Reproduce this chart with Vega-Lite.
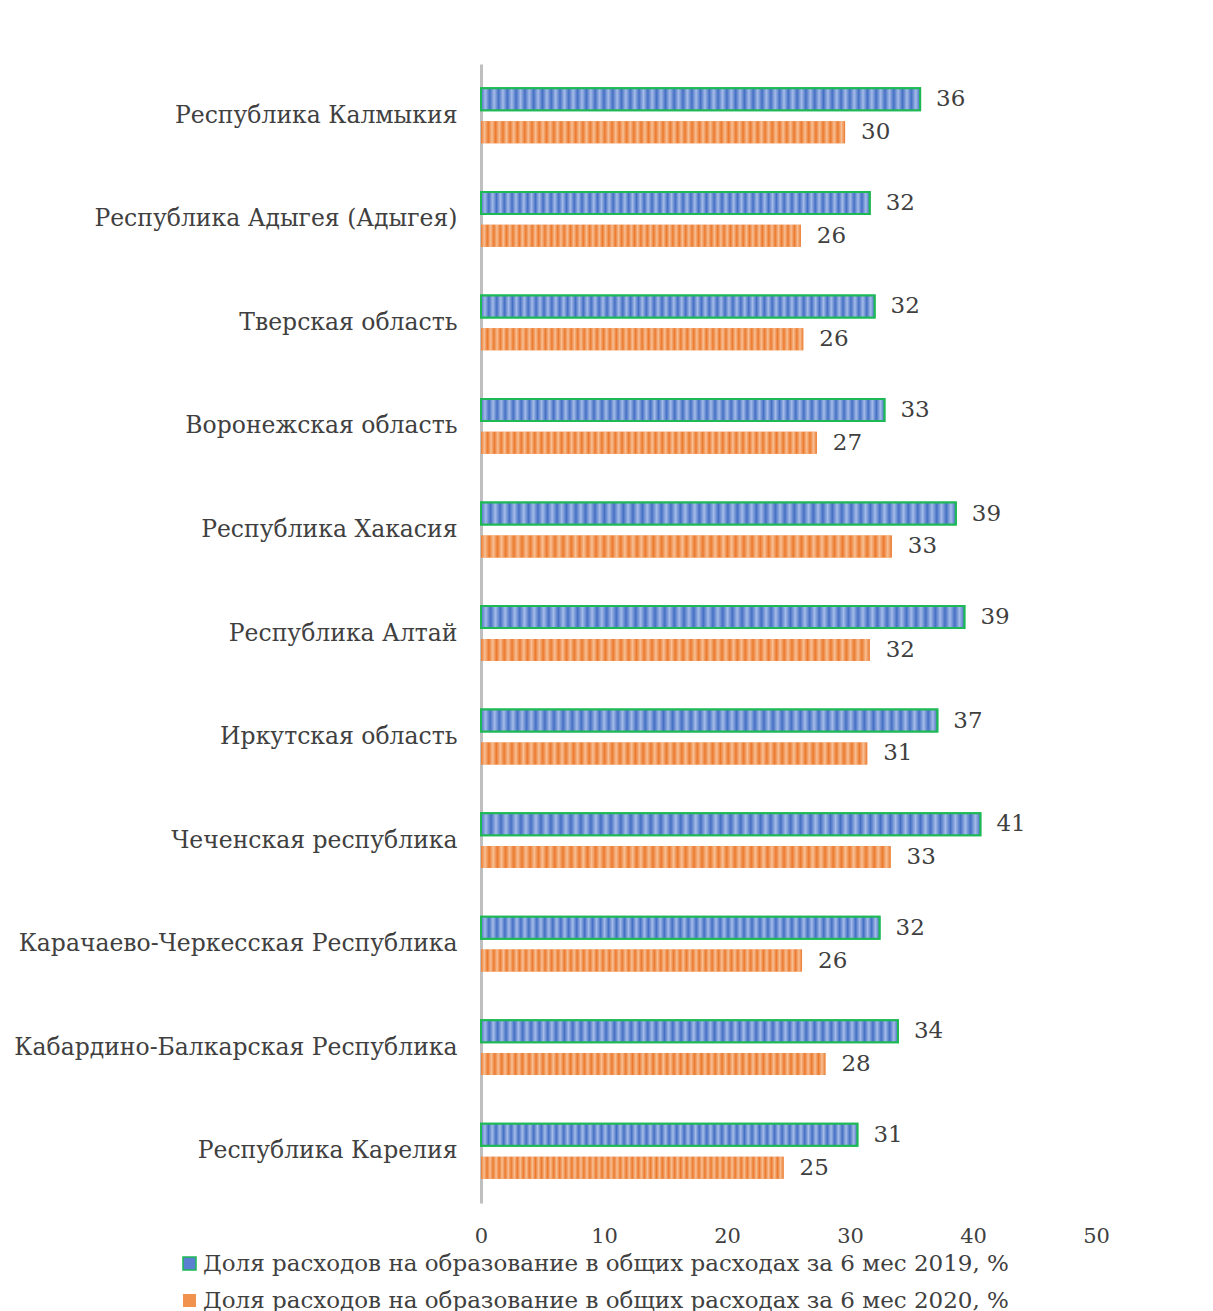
{
  "$schema": "https://vega.github.io/schema/vega-lite/v6.json",
  "autosize": {"type": "none"},
  "width": 615,
  "height": 1139,
  "padding": {"left": 481, "top": 64, "right": 117, "bottom": 108},
  "background": "white",
  "config": {
    "font": "DejaVu Serif",
    "view": {"stroke": null},
    "axis": {"labelFont": "DejaVu Serif", "labelColor": "#404040", "grid": false, "ticks": false},
    "legend": {"labelFont": "DejaVu Serif", "labelColor": "#404040"}
  },
  "data": {
    "values": [
      {"region": "Республика Калмыкия", "series": "Доля расходов на образование в общих расходах за 6 мес 2019, %", "value": 35.7},
      {"region": "Республика Калмыкия", "series": "Доля расходов на образование в общих расходах за 6 мес 2020, %", "value": 29.6},
      {"region": "Республика Адыгея (Адыгея)", "series": "Доля расходов на образование в общих расходах за 6 мес 2019, %", "value": 31.6},
      {"region": "Республика Адыгея (Адыгея)", "series": "Доля расходов на образование в общих расходах за 6 мес 2020, %", "value": 26.0},
      {"region": "Тверская область", "series": "Доля расходов на образование в общих расходах за 6 мес 2019, %", "value": 32.0},
      {"region": "Тверская область", "series": "Доля расходов на образование в общих расходах за 6 мес 2020, %", "value": 26.2},
      {"region": "Воронежская область", "series": "Доля расходов на образование в общих расходах за 6 мес 2019, %", "value": 32.8},
      {"region": "Воронежская область", "series": "Доля расходов на образование в общих расходах за 6 мес 2020, %", "value": 27.3},
      {"region": "Республика Хакасия", "series": "Доля расходов на образование в общих расходах за 6 мес 2019, %", "value": 38.6},
      {"region": "Республика Хакасия", "series": "Доля расходов на образование в общих расходах за 6 мес 2020, %", "value": 33.4},
      {"region": "Республика Алтай", "series": "Доля расходов на образование в общих расходах за 6 мес 2019, %", "value": 39.3},
      {"region": "Республика Алтай", "series": "Доля расходов на образование в общих расходах за 6 мес 2020, %", "value": 31.6},
      {"region": "Иркутская область", "series": "Доля расходов на образование в общих расходах за 6 мес 2019, %", "value": 37.1},
      {"region": "Иркутская область", "series": "Доля расходов на образование в общих расходах за 6 мес 2020, %", "value": 31.4},
      {"region": "Чеченская республика", "series": "Доля расходов на образование в общих расходах за 6 мес 2019, %", "value": 40.6},
      {"region": "Чеченская республика", "series": "Доля расходов на образование в общих расходах за 6 мес 2020, %", "value": 33.3},
      {"region": "Карачаево-Черкесская Республика", "series": "Доля расходов на образование в общих расходах за 6 мес 2019, %", "value": 32.4},
      {"region": "Карачаево-Черкесская Республика", "series": "Доля расходов на образование в общих расходах за 6 мес 2020, %", "value": 26.1},
      {"region": "Кабардино-Балкарская Республика", "series": "Доля расходов на образование в общих расходах за 6 мес 2019, %", "value": 33.9},
      {"region": "Кабардино-Балкарская Республика", "series": "Доля расходов на образование в общих расходах за 6 мес 2020, %", "value": 28.0},
      {"region": "Республика Карелия", "series": "Доля расходов на образование в общих расходах за 6 мес 2019, %", "value": 30.6},
      {"region": "Республика Карелия", "series": "Доля расходов на образование в общих расходах за 6 мес 2020, %", "value": 24.6}
    ]
  },
  "encoding": {
    "y": {
      "field": "region", "type": "nominal", "sort": null, "title": null,
      "scale": {"paddingInner": 0.47, "paddingOuter": 0.235},
      "axis": {"labelFontSize": 23.5, "labelPadding": 24, "domainColor": "#bfbfbf", "domainWidth": 3, "labelLimit": 500}
    },
    "yOffset": {"field": "series", "type": "nominal", "scale": {"paddingInner": 0.33}},
    "x": {
      "field": "value", "type": "quantitative", "title": null,
      "scale": {"domain": [0, 50], "nice": false},
      "axis": {"values": [0, 10, 20, 30, 40, 50], "domain": false, "labelFontSize": 21, "labelPadding": 22, "labelFlush": false}
    }
  },
  "layer": [
    {
      "mark": {"type": "bar", "strokeWidth": 2},
      "encoding": {
        "color": {
          "field": "series", "type": "nominal", "title": null,
          "scale": {"range": ["#5b80d2", "#f1924f"]},
          "legend": {
            "orient": "none", "legendX": -303, "legendY": 1188, "direction": "vertical",
            "labelFontSize": 23, "symbolType": "square", "symbolSize": 170, "rowPadding": 13,
            "labelOffset": 2, "labelLimit": 1000
          }
        },
        "stroke": {
          "field": "series", "type": "nominal", "title": null,
          "scale": {"range": ["#1db954", "transparent"]}
        }
      }
    },
    {
      "transform": [{"filter": {"field": "series", "equal": "Доля расходов на образование в общих расходах за 6 мес 2019, %"}}],
      "mark": {"type": "bar", "strokeWidth": 2, "stroke": "#1db954",
        "fill": {"gradient": "linear", "x1": 0, "y1": 0, "x2": 1, "y2": 0, "stops": [
              {"offset": 0.00, "color": "#4570c4"}, {"offset": 0.01, "color": "#a4bbe8"}, {"offset": 0.02, "color": "#4570c4"}, {"offset": 0.03, "color": "#a4bbe8"}, {"offset": 0.04, "color": "#4570c4"}, {"offset": 0.05, "color": "#a4bbe8"}, {"offset": 0.06, "color": "#4570c4"}, {"offset": 0.07, "color": "#a4bbe8"}, {"offset": 0.08, "color": "#4570c4"}, {"offset": 0.09, "color": "#a4bbe8"},
              {"offset": 0.10, "color": "#4570c4"}, {"offset": 0.11, "color": "#a4bbe8"}, {"offset": 0.12, "color": "#4570c4"}, {"offset": 0.13, "color": "#a4bbe8"}, {"offset": 0.14, "color": "#4570c4"}, {"offset": 0.15, "color": "#a4bbe8"}, {"offset": 0.16, "color": "#4570c4"}, {"offset": 0.17, "color": "#a4bbe8"}, {"offset": 0.18, "color": "#4570c4"}, {"offset": 0.19, "color": "#a4bbe8"},
              {"offset": 0.20, "color": "#4570c4"}, {"offset": 0.21, "color": "#a4bbe8"}, {"offset": 0.22, "color": "#4570c4"}, {"offset": 0.23, "color": "#a4bbe8"}, {"offset": 0.24, "color": "#4570c4"}, {"offset": 0.25, "color": "#a4bbe8"}, {"offset": 0.26, "color": "#4570c4"}, {"offset": 0.27, "color": "#a4bbe8"}, {"offset": 0.28, "color": "#4570c4"}, {"offset": 0.29, "color": "#a4bbe8"},
              {"offset": 0.30, "color": "#4570c4"}, {"offset": 0.31, "color": "#a4bbe8"}, {"offset": 0.32, "color": "#4570c4"}, {"offset": 0.33, "color": "#a4bbe8"}, {"offset": 0.34, "color": "#4570c4"}, {"offset": 0.35, "color": "#a4bbe8"}, {"offset": 0.36, "color": "#4570c4"}, {"offset": 0.37, "color": "#a4bbe8"}, {"offset": 0.38, "color": "#4570c4"}, {"offset": 0.39, "color": "#a4bbe8"},
              {"offset": 0.40, "color": "#4570c4"}, {"offset": 0.41, "color": "#a4bbe8"}, {"offset": 0.42, "color": "#4570c4"}, {"offset": 0.43, "color": "#a4bbe8"}, {"offset": 0.44, "color": "#4570c4"}, {"offset": 0.45, "color": "#a4bbe8"}, {"offset": 0.46, "color": "#4570c4"}, {"offset": 0.47, "color": "#a4bbe8"}, {"offset": 0.48, "color": "#4570c4"}, {"offset": 0.49, "color": "#a4bbe8"},
              {"offset": 0.50, "color": "#4570c4"}, {"offset": 0.51, "color": "#a4bbe8"}, {"offset": 0.52, "color": "#4570c4"}, {"offset": 0.53, "color": "#a4bbe8"}, {"offset": 0.54, "color": "#4570c4"}, {"offset": 0.55, "color": "#a4bbe8"}, {"offset": 0.56, "color": "#4570c4"}, {"offset": 0.57, "color": "#a4bbe8"}, {"offset": 0.58, "color": "#4570c4"}, {"offset": 0.59, "color": "#a4bbe8"},
              {"offset": 0.60, "color": "#4570c4"}, {"offset": 0.61, "color": "#a4bbe8"}, {"offset": 0.62, "color": "#4570c4"}, {"offset": 0.63, "color": "#a4bbe8"}, {"offset": 0.64, "color": "#4570c4"}, {"offset": 0.65, "color": "#a4bbe8"}, {"offset": 0.66, "color": "#4570c4"}, {"offset": 0.67, "color": "#a4bbe8"}, {"offset": 0.68, "color": "#4570c4"}, {"offset": 0.69, "color": "#a4bbe8"},
              {"offset": 0.70, "color": "#4570c4"}, {"offset": 0.71, "color": "#a4bbe8"}, {"offset": 0.72, "color": "#4570c4"}, {"offset": 0.73, "color": "#a4bbe8"}, {"offset": 0.74, "color": "#4570c4"}, {"offset": 0.75, "color": "#a4bbe8"}, {"offset": 0.76, "color": "#4570c4"}, {"offset": 0.77, "color": "#a4bbe8"}, {"offset": 0.78, "color": "#4570c4"}, {"offset": 0.79, "color": "#a4bbe8"},
              {"offset": 0.80, "color": "#4570c4"}, {"offset": 0.81, "color": "#a4bbe8"}, {"offset": 0.82, "color": "#4570c4"}, {"offset": 0.83, "color": "#a4bbe8"}, {"offset": 0.84, "color": "#4570c4"}, {"offset": 0.85, "color": "#a4bbe8"}, {"offset": 0.86, "color": "#4570c4"}, {"offset": 0.87, "color": "#a4bbe8"}, {"offset": 0.88, "color": "#4570c4"}, {"offset": 0.89, "color": "#a4bbe8"},
              {"offset": 0.90, "color": "#4570c4"}, {"offset": 0.91, "color": "#a4bbe8"}, {"offset": 0.92, "color": "#4570c4"}, {"offset": 0.93, "color": "#a4bbe8"}, {"offset": 0.94, "color": "#4570c4"}, {"offset": 0.95, "color": "#a4bbe8"}, {"offset": 0.96, "color": "#4570c4"}, {"offset": 0.97, "color": "#a4bbe8"}, {"offset": 0.98, "color": "#4570c4"}, {"offset": 0.99, "color": "#a4bbe8"},
              {"offset": 1.00, "color": "#4570c4"}
        ]}
      },
      "encoding": {}
    },
    {
      "transform": [{"filter": {"field": "series", "equal": "Доля расходов на образование в общих расходах за 6 мес 2020, %"}}],
      "mark": {"type": "bar", "strokeWidth": 0,
        "fill": {"gradient": "linear", "x1": 0, "y1": 0, "x2": 1, "y2": 0, "stops": [
              {"offset": 0.00, "color": "#ec7a2e"}, {"offset": 0.01, "color": "#f7bf94"}, {"offset": 0.02, "color": "#ec7a2e"}, {"offset": 0.03, "color": "#f7bf94"}, {"offset": 0.04, "color": "#ec7a2e"}, {"offset": 0.05, "color": "#f7bf94"}, {"offset": 0.06, "color": "#ec7a2e"}, {"offset": 0.07, "color": "#f7bf94"}, {"offset": 0.08, "color": "#ec7a2e"}, {"offset": 0.09, "color": "#f7bf94"},
              {"offset": 0.10, "color": "#ec7a2e"}, {"offset": 0.11, "color": "#f7bf94"}, {"offset": 0.12, "color": "#ec7a2e"}, {"offset": 0.13, "color": "#f7bf94"}, {"offset": 0.14, "color": "#ec7a2e"}, {"offset": 0.15, "color": "#f7bf94"}, {"offset": 0.16, "color": "#ec7a2e"}, {"offset": 0.17, "color": "#f7bf94"}, {"offset": 0.18, "color": "#ec7a2e"}, {"offset": 0.19, "color": "#f7bf94"},
              {"offset": 0.20, "color": "#ec7a2e"}, {"offset": 0.21, "color": "#f7bf94"}, {"offset": 0.22, "color": "#ec7a2e"}, {"offset": 0.23, "color": "#f7bf94"}, {"offset": 0.24, "color": "#ec7a2e"}, {"offset": 0.25, "color": "#f7bf94"}, {"offset": 0.26, "color": "#ec7a2e"}, {"offset": 0.27, "color": "#f7bf94"}, {"offset": 0.28, "color": "#ec7a2e"}, {"offset": 0.29, "color": "#f7bf94"},
              {"offset": 0.30, "color": "#ec7a2e"}, {"offset": 0.31, "color": "#f7bf94"}, {"offset": 0.32, "color": "#ec7a2e"}, {"offset": 0.33, "color": "#f7bf94"}, {"offset": 0.34, "color": "#ec7a2e"}, {"offset": 0.35, "color": "#f7bf94"}, {"offset": 0.36, "color": "#ec7a2e"}, {"offset": 0.37, "color": "#f7bf94"}, {"offset": 0.38, "color": "#ec7a2e"}, {"offset": 0.39, "color": "#f7bf94"},
              {"offset": 0.40, "color": "#ec7a2e"}, {"offset": 0.41, "color": "#f7bf94"}, {"offset": 0.42, "color": "#ec7a2e"}, {"offset": 0.43, "color": "#f7bf94"}, {"offset": 0.44, "color": "#ec7a2e"}, {"offset": 0.45, "color": "#f7bf94"}, {"offset": 0.46, "color": "#ec7a2e"}, {"offset": 0.47, "color": "#f7bf94"}, {"offset": 0.48, "color": "#ec7a2e"}, {"offset": 0.49, "color": "#f7bf94"},
              {"offset": 0.50, "color": "#ec7a2e"}, {"offset": 0.51, "color": "#f7bf94"}, {"offset": 0.52, "color": "#ec7a2e"}, {"offset": 0.53, "color": "#f7bf94"}, {"offset": 0.54, "color": "#ec7a2e"}, {"offset": 0.55, "color": "#f7bf94"}, {"offset": 0.56, "color": "#ec7a2e"}, {"offset": 0.57, "color": "#f7bf94"}, {"offset": 0.58, "color": "#ec7a2e"}, {"offset": 0.59, "color": "#f7bf94"},
              {"offset": 0.60, "color": "#ec7a2e"}, {"offset": 0.61, "color": "#f7bf94"}, {"offset": 0.62, "color": "#ec7a2e"}, {"offset": 0.63, "color": "#f7bf94"}, {"offset": 0.64, "color": "#ec7a2e"}, {"offset": 0.65, "color": "#f7bf94"}, {"offset": 0.66, "color": "#ec7a2e"}, {"offset": 0.67, "color": "#f7bf94"}, {"offset": 0.68, "color": "#ec7a2e"}, {"offset": 0.69, "color": "#f7bf94"},
              {"offset": 0.70, "color": "#ec7a2e"}, {"offset": 0.71, "color": "#f7bf94"}, {"offset": 0.72, "color": "#ec7a2e"}, {"offset": 0.73, "color": "#f7bf94"}, {"offset": 0.74, "color": "#ec7a2e"}, {"offset": 0.75, "color": "#f7bf94"}, {"offset": 0.76, "color": "#ec7a2e"}, {"offset": 0.77, "color": "#f7bf94"}, {"offset": 0.78, "color": "#ec7a2e"}, {"offset": 0.79, "color": "#f7bf94"},
              {"offset": 0.80, "color": "#ec7a2e"}, {"offset": 0.81, "color": "#f7bf94"}, {"offset": 0.82, "color": "#ec7a2e"}, {"offset": 0.83, "color": "#f7bf94"}, {"offset": 0.84, "color": "#ec7a2e"}, {"offset": 0.85, "color": "#f7bf94"}, {"offset": 0.86, "color": "#ec7a2e"}, {"offset": 0.87, "color": "#f7bf94"}, {"offset": 0.88, "color": "#ec7a2e"}, {"offset": 0.89, "color": "#f7bf94"},
              {"offset": 0.90, "color": "#ec7a2e"}, {"offset": 0.91, "color": "#f7bf94"}, {"offset": 0.92, "color": "#ec7a2e"}, {"offset": 0.93, "color": "#f7bf94"}, {"offset": 0.94, "color": "#ec7a2e"}, {"offset": 0.95, "color": "#f7bf94"}, {"offset": 0.96, "color": "#ec7a2e"}, {"offset": 0.97, "color": "#f7bf94"}, {"offset": 0.98, "color": "#ec7a2e"}, {"offset": 0.99, "color": "#f7bf94"},
              {"offset": 1.00, "color": "#ec7a2e"}
        ]}
      },
      "encoding": {}
    },
    {
      "mark": {"type": "text", "align": "left", "baseline": "middle", "dx": 16, "fontSize": 23, "color": "#404040"},
      "encoding": {
        "text": {"field": "value", "type": "quantitative", "format": ".0f"}
      }
    }
  ]
}
